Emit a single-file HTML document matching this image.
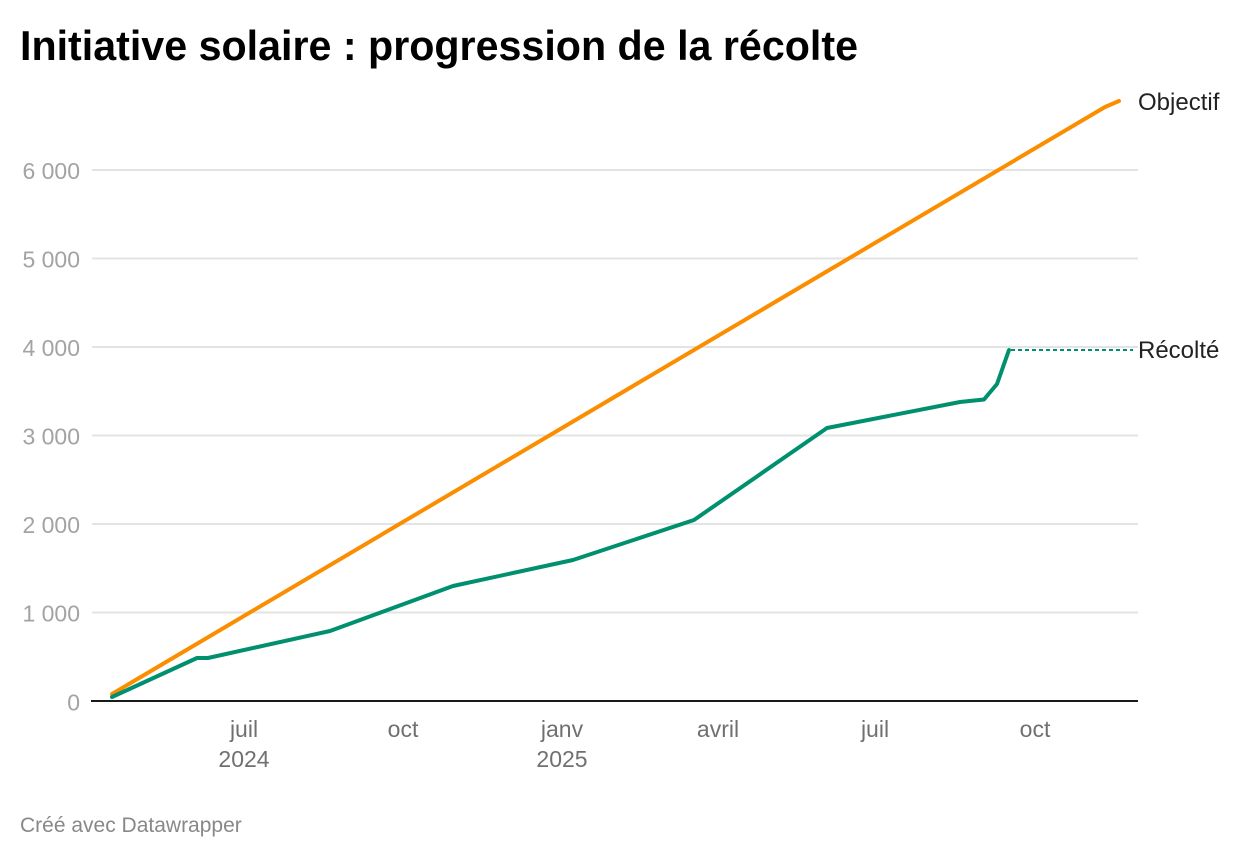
<!DOCTYPE html>
<html>
<head>
<meta charset="utf-8">
<style>
  html, body { margin:0; padding:0; background:#fff; }
  body { width:1240px; height:858px; overflow:hidden; }
  svg { display:block; }
  text { font-family: "Liberation Sans", Arial, sans-serif; }
</style>
</head>
<body>
<svg width="1240" height="858" viewBox="0 0 1240 858" xmlns="http://www.w3.org/2000/svg">
  <rect width="1240" height="858" fill="#fff"/>
  <!-- Title -->
  <text x="20" y="60" font-size="42" font-weight="bold" fill="#000" textLength="838" lengthAdjust="spacingAndGlyphs">Initiative solaire : progression de la récolte</text>

  <!-- gridlines -->
  <g stroke="#e3e3e3" stroke-width="2">
    <line x1="92" y1="170" x2="1138" y2="170"/>
    <line x1="92" y1="258.5" x2="1138" y2="258.5"/>
    <line x1="92" y1="347" x2="1138" y2="347"/>
    <line x1="92" y1="435.5" x2="1138" y2="435.5"/>
    <line x1="92" y1="524" x2="1138" y2="524"/>
    <line x1="92" y1="612.5" x2="1138" y2="612.5"/>
  </g>

  <!-- y labels -->
  <g font-size="23" fill="#a3a3a3" text-anchor="end">
    <text x="80" y="179">6 000</text>
    <text x="80" y="267.5">5 000</text>
    <text x="80" y="356">4 000</text>
    <text x="80" y="444.5">3 000</text>
    <text x="80" y="533">2 000</text>
    <text x="80" y="621.5">1 000</text>
    <text x="80" y="710.5">0</text>
  </g>

  <!-- x labels -->
  <g font-size="23" fill="#707070" text-anchor="middle">
    <text x="244" y="737">juil</text>
    <text x="244" y="767">2024</text>
    <text x="403" y="737">oct</text>
    <text x="562" y="737">janv</text>
    <text x="562" y="767">2025</text>
    <text x="718" y="737">avril</text>
    <text x="875" y="737">juil</text>
    <text x="1035" y="737">oct</text>
  </g>

  <!-- Objectif line -->
  <polyline fill="none" stroke="#fb8d00" stroke-width="4" stroke-linejoin="round" stroke-linecap="round"
    points="112,694 1105,107 1119,101"/>

  <!-- Récolté line -->
  <polyline fill="none" stroke="#00906f" stroke-width="4" stroke-linejoin="round" stroke-linecap="round"
    points="112,697 197,658 208,658 330,631 453,586 573,560 694,520 827,428 960,402 984,399.5 997,384 1009,350"/>
  <line x1="1011" y1="350" x2="1133" y2="350" stroke="#00906f" stroke-width="2" stroke-dasharray="4,3"/>

  <!-- baseline -->
  <line x1="91" y1="701" x2="1138" y2="701" stroke="#1a1a1a" stroke-width="2"/>

  <!-- series labels -->
  <text x="1138" y="110" font-size="24" fill="#222">Objectif</text>
  <text x="1138" y="358" font-size="24" fill="#222">Récolté</text>

  <!-- footer -->
  <text x="20" y="832" font-size="21" fill="#888">Créé avec Datawrapper</text>
</svg>
</body>
</html>
